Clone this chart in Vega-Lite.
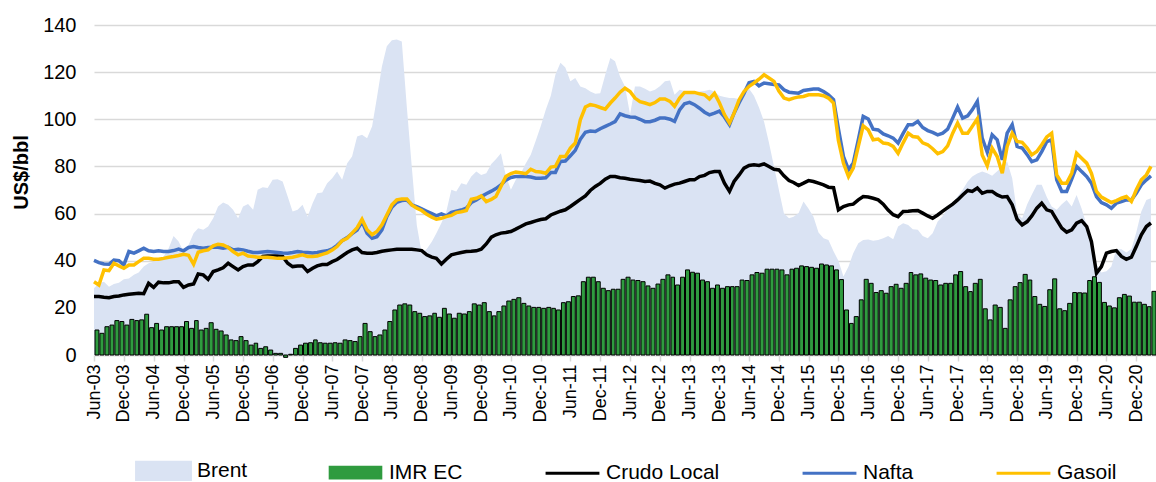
{
"$schema": "https://vega.github.io/schema/vega-lite/v6.json",
"width": 1062, "height": 330,
"autosize": {"type": "none"},
"padding": {"left": 94, "top": 25, "right": 0, "bottom": 127},
"background": "white",
"config": {"view": {"stroke": null}, "font": "Liberation Sans"},
"data": {"values": [
{"fecha":"2003/06/01","Brent":28.3,"IMR EC":10.6,"Crudo Local":24.8,"Nafta":40.1,"Gasoil":31.1},
{"fecha":"2003/07/01","Brent":30.4,"IMR EC":9.2,"Crudo Local":24.8,"Nafta":39.2,"Gasoil":29.7},
{"fecha":"2003/08/01","Brent":31.1,"IMR EC":12,"Crudo Local":24.5,"Nafta":38.6,"Gasoil":36.1},
{"fecha":"2003/09/01","Brent":29,"IMR EC":12.7,"Crudo Local":24.3,"Nafta":38.5,"Gasoil":35.8},
{"fecha":"2003/10/01","Brent":30.1,"IMR EC":14.6,"Crudo Local":24.8,"Nafta":40.3,"Gasoil":38.9},
{"fecha":"2003/11/01","Brent":30.7,"IMR EC":14.2,"Crudo Local":25,"Nafta":40,"Gasoil":37.8},
{"fecha":"2003/12/01","Brent":32.1,"IMR EC":12.7,"Crudo Local":25.5,"Nafta":38.2,"Gasoil":36.8},
{"fecha":"2004/01/01","Brent":32.5,"IMR EC":15.1,"Crudo Local":25.8,"Nafta":43.9,"Gasoil":38.2},
{"fecha":"2004/02/01","Brent":34,"IMR EC":14.6,"Crudo Local":26,"Nafta":43.2,"Gasoil":38.2},
{"fecha":"2004/03/01","Brent":35,"IMR EC":14.9,"Crudo Local":26.2,"Nafta":44.2,"Gasoil":39.6},
{"fecha":"2004/04/01","Brent":37.5,"IMR EC":17.3,"Crudo Local":26,"Nafta":45.3,"Gasoil":41},
{"fecha":"2004/05/01","Brent":38.9,"IMR EC":11.6,"Crudo Local":30.4,"Nafta":44.2,"Gasoil":41},
{"fecha":"2004/06/01","Brent":39.6,"IMR EC":13.4,"Crudo Local":28.7,"Nafta":43.9,"Gasoil":40.6},
{"fecha":"2004/07/01","Brent":40.3,"IMR EC":10.6,"Crudo Local":30.9,"Nafta":44.2,"Gasoil":40.6},
{"fecha":"2004/08/01","Brent":41.8,"IMR EC":12,"Crudo Local":30.6,"Nafta":43.9,"Gasoil":41},
{"fecha":"2004/09/01","Brent":45.3,"IMR EC":12,"Crudo Local":30.6,"Nafta":43.9,"Gasoil":41.5},
{"fecha":"2004/10/01","Brent":50.5,"IMR EC":12,"Crudo Local":31.1,"Nafta":44.3,"Gasoil":41.8},
{"fecha":"2004/11/01","Brent":48.1,"IMR EC":12,"Crudo Local":31.1,"Nafta":44.9,"Gasoil":42.2},
{"fecha":"2004/12/01","Brent":43.9,"IMR EC":14.2,"Crudo Local":28.7,"Nafta":44.2,"Gasoil":42.7},
{"fecha":"2005/01/01","Brent":46.7,"IMR EC":11.3,"Crudo Local":29.7,"Nafta":45.6,"Gasoil":42.3},
{"fecha":"2005/02/01","Brent":51.7,"IMR EC":14.6,"Crudo Local":30.1,"Nafta":46,"Gasoil":38.5},
{"fecha":"2005/03/01","Brent":53.8,"IMR EC":10.6,"Crudo Local":34.4,"Nafta":45.6,"Gasoil":43.6},
{"fecha":"2005/04/01","Brent":53.1,"IMR EC":11.3,"Crudo Local":34,"Nafta":45.3,"Gasoil":44.2},
{"fecha":"2005/05/01","Brent":54.5,"IMR EC":13.7,"Crudo Local":32.1,"Nafta":45.6,"Gasoil":44.6},
{"fecha":"2005/06/01","Brent":58,"IMR EC":10.9,"Crudo Local":35.4,"Nafta":45.7,"Gasoil":46.3},
{"fecha":"2005/07/01","Brent":63,"IMR EC":10.2,"Crudo Local":36.1,"Nafta":45.7,"Gasoil":47},
{"fecha":"2005/08/01","Brent":64.7,"IMR EC":8.5,"Crudo Local":37,"Nafta":45.3,"Gasoil":46.7},
{"fecha":"2005/09/01","Brent":63.7,"IMR EC":6.4,"Crudo Local":38.9,"Nafta":45.7,"Gasoil":45.6},
{"fecha":"2005/10/01","Brent":61.6,"IMR EC":6.1,"Crudo Local":37.5,"Nafta":44.6,"Gasoil":43.9},
{"fecha":"2005/11/01","Brent":58,"IMR EC":7.8,"Crudo Local":36.1,"Nafta":44.9,"Gasoil":42.5},
{"fecha":"2005/12/01","Brent":63,"IMR EC":6.1,"Crudo Local":37.5,"Nafta":44.6,"Gasoil":43.2},
{"fecha":"2006/01/01","Brent":64.1,"IMR EC":4.2,"Crudo Local":38.2,"Nafta":44,"Gasoil":42},
{"fecha":"2006/02/01","Brent":61.6,"IMR EC":5,"Crudo Local":38.2,"Nafta":43.5,"Gasoil":41.8},
{"fecha":"2006/03/01","Brent":70.1,"IMR EC":2.8,"Crudo Local":39.6,"Nafta":43.5,"Gasoil":41.5},
{"fecha":"2006/04/01","Brent":71.2,"IMR EC":3.5,"Crudo Local":41.8,"Nafta":43.7,"Gasoil":41.5},
{"fecha":"2006/05/01","Brent":70.8,"IMR EC":2.1,"Crudo Local":42,"Nafta":43.9,"Gasoil":41.5},
{"fecha":"2006/06/01","Brent":74.3,"IMR EC":0.7,"Crudo Local":42,"Nafta":43.7,"Gasoil":41.3},
{"fecha":"2006/07/01","Brent":74.6,"IMR EC":0.7,"Crudo Local":42,"Nafta":43.5,"Gasoil":41},
{"fecha":"2006/08/01","Brent":73.6,"IMR EC":-1,"Crudo Local":41.8,"Nafta":43.3,"Gasoil":41},
{"fecha":"2006/09/01","Brent":67.2,"IMR EC":0.3,"Crudo Local":38.9,"Nafta":43.2,"Gasoil":41.3},
{"fecha":"2006/10/01","Brent":60.9,"IMR EC":2.8,"Crudo Local":37.5,"Nafta":43.5,"Gasoil":41.5},
{"fecha":"2006/11/01","Brent":61.6,"IMR EC":4.2,"Crudo Local":37.8,"Nafta":43.9,"Gasoil":42},
{"fecha":"2006/12/01","Brent":63.7,"IMR EC":5,"Crudo Local":37.8,"Nafta":43.6,"Gasoil":42.5},
{"fecha":"2007/01/01","Brent":58.7,"IMR EC":5.2,"Crudo Local":35.4,"Nafta":43.5,"Gasoil":41.8},
{"fecha":"2007/02/01","Brent":64.4,"IMR EC":6.4,"Crudo Local":36.8,"Nafta":43.3,"Gasoil":41.8},
{"fecha":"2007/03/01","Brent":68.6,"IMR EC":5.2,"Crudo Local":37.8,"Nafta":43.5,"Gasoil":42},
{"fecha":"2007/04/01","Brent":68.9,"IMR EC":5,"Crudo Local":38.4,"Nafta":43.9,"Gasoil":42.7},
{"fecha":"2007/05/01","Brent":72.9,"IMR EC":5,"Crudo Local":38.4,"Nafta":44.2,"Gasoil":43.3},
{"fecha":"2007/06/01","Brent":75,"IMR EC":5.2,"Crudo Local":39.6,"Nafta":45,"Gasoil":44.5},
{"fecha":"2007/07/01","Brent":77.8,"IMR EC":5,"Crudo Local":40.5,"Nafta":46.5,"Gasoil":46},
{"fecha":"2007/08/01","Brent":74.3,"IMR EC":6.4,"Crudo Local":42,"Nafta":48.5,"Gasoil":48.5},
{"fecha":"2007/09/01","Brent":81.4,"IMR EC":6.1,"Crudo Local":43.5,"Nafta":49.8,"Gasoil":49.5},
{"fecha":"2007/10/01","Brent":84.2,"IMR EC":5.7,"Crudo Local":44.6,"Nafta":51.5,"Gasoil":51.7},
{"fecha":"2007/11/01","Brent":92.7,"IMR EC":7.8,"Crudo Local":45.3,"Nafta":53,"Gasoil":54},
{"fecha":"2007/12/01","Brent":93.4,"IMR EC":13.4,"Crudo Local":43.5,"Nafta":56.6,"Gasoil":57.6},
{"fecha":"2008/01/01","Brent":92,"IMR EC":9.9,"Crudo Local":43.2,"Nafta":51.7,"Gasoil":53.1},
{"fecha":"2008/02/01","Brent":97,"IMR EC":7.8,"Crudo Local":43.2,"Nafta":49.5,"Gasoil":51},
{"fecha":"2008/03/01","Brent":109,"IMR EC":8.5,"Crudo Local":43.5,"Nafta":50.2,"Gasoil":52.4},
{"fecha":"2008/04/01","Brent":122.4,"IMR EC":10.6,"Crudo Local":44,"Nafta":53.1,"Gasoil":55.2},
{"fecha":"2008/05/01","Brent":131,"IMR EC":14.2,"Crudo Local":44.3,"Nafta":58.7,"Gasoil":59.4},
{"fecha":"2008/06/01","Brent":133.5,"IMR EC":19.1,"Crudo Local":44.6,"Nafta":62.7,"Gasoil":63.7},
{"fecha":"2008/07/01","Brent":133.8,"IMR EC":21.2,"Crudo Local":44.9,"Nafta":64.8,"Gasoil":65.8},
{"fecha":"2008/08/01","Brent":133,"IMR EC":21.7,"Crudo Local":44.9,"Nafta":65.5,"Gasoil":66.2},
{"fecha":"2008/09/01","Brent":105,"IMR EC":21.2,"Crudo Local":44.9,"Nafta":65.8,"Gasoil":66.2},
{"fecha":"2008/10/01","Brent":80,"IMR EC":18.4,"Crudo Local":44.9,"Nafta":63.7,"Gasoil":63.7},
{"fecha":"2008/11/01","Brent":55,"IMR EC":17.7,"Crudo Local":44.6,"Nafta":62.9,"Gasoil":62.3},
{"fecha":"2008/12/01","Brent":43.2,"IMR EC":16.3,"Crudo Local":44.3,"Nafta":62,"Gasoil":61.3},
{"fecha":"2009/01/01","Brent":45,"IMR EC":16.6,"Crudo Local":42.5,"Nafta":61,"Gasoil":59.7},
{"fecha":"2009/02/01","Brent":48,"IMR EC":17.7,"Crudo Local":41.5,"Nafta":60,"Gasoil":58.5},
{"fecha":"2009/03/01","Brent":51.7,"IMR EC":16,"Crudo Local":41,"Nafta":59,"Gasoil":57.6},
{"fecha":"2009/04/01","Brent":56,"IMR EC":19.8,"Crudo Local":38.6,"Nafta":59.9,"Gasoil":58},
{"fecha":"2009/05/01","Brent":60.9,"IMR EC":17.4,"Crudo Local":40.6,"Nafta":59,"Gasoil":58.7},
{"fecha":"2009/06/01","Brent":70.1,"IMR EC":15.6,"Crudo Local":42.5,"Nafta":60.5,"Gasoil":59.2},
{"fecha":"2009/07/01","Brent":69.4,"IMR EC":17.7,"Crudo Local":43,"Nafta":61,"Gasoil":60.4},
{"fecha":"2009/08/01","Brent":72.9,"IMR EC":17.4,"Crudo Local":43.5,"Nafta":61.5,"Gasoil":60.8},
{"fecha":"2009/09/01","Brent":72.2,"IMR EC":18.4,"Crudo Local":43.9,"Nafta":62.3,"Gasoil":61.3},
{"fecha":"2009/10/01","Brent":75.7,"IMR EC":21.7,"Crudo Local":44,"Nafta":64.7,"Gasoil":66.1},
{"fecha":"2009/11/01","Brent":77.8,"IMR EC":21.2,"Crudo Local":44.2,"Nafta":65.8,"Gasoil":66.5},
{"fecha":"2009/12/01","Brent":76.4,"IMR EC":22.2,"Crudo Local":44.9,"Nafta":67.2,"Gasoil":67.5},
{"fecha":"2010/01/01","Brent":77.1,"IMR EC":18.4,"Crudo Local":47.1,"Nafta":68.4,"Gasoil":65.1},
{"fecha":"2010/02/01","Brent":81,"IMR EC":16.6,"Crudo Local":50,"Nafta":69.5,"Gasoil":66},
{"fecha":"2010/03/01","Brent":83,"IMR EC":18.4,"Crudo Local":51,"Nafta":70.6,"Gasoil":67.2},
{"fecha":"2010/04/01","Brent":85.6,"IMR EC":20.8,"Crudo Local":51.7,"Nafta":72.2,"Gasoil":71.5},
{"fecha":"2010/05/01","Brent":76,"IMR EC":22.9,"Crudo Local":52,"Nafta":74.2,"Gasoil":75.7},
{"fecha":"2010/06/01","Brent":70.1,"IMR EC":23.6,"Crudo Local":52.4,"Nafta":75.3,"Gasoil":77},
{"fecha":"2010/07/01","Brent":74.3,"IMR EC":24.3,"Crudo Local":53.4,"Nafta":75.7,"Gasoil":77.6},
{"fecha":"2010/08/01","Brent":77.1,"IMR EC":21.9,"Crudo Local":54.5,"Nafta":75.7,"Gasoil":77.3},
{"fecha":"2010/09/01","Brent":81.4,"IMR EC":20.8,"Crudo Local":55.6,"Nafta":75.7,"Gasoil":76.9},
{"fecha":"2010/10/01","Brent":85,"IMR EC":20.2,"Crudo Local":56.2,"Nafta":75.5,"Gasoil":78.8},
{"fecha":"2010/11/01","Brent":91,"IMR EC":20.2,"Crudo Local":56.9,"Nafta":75,"Gasoil":77.8},
{"fecha":"2010/12/01","Brent":97,"IMR EC":19.8,"Crudo Local":57.5,"Nafta":75,"Gasoil":77.6},
{"fecha":"2011/01/01","Brent":104,"IMR EC":20.2,"Crudo Local":57.8,"Nafta":75.2,"Gasoil":77.1},
{"fecha":"2011/02/01","Brent":110,"IMR EC":19.8,"Crudo Local":59.4,"Nafta":77.4,"Gasoil":79.7},
{"fecha":"2011/03/01","Brent":118.9,"IMR EC":19.1,"Crudo Local":60.2,"Nafta":77.4,"Gasoil":80},
{"fecha":"2011/04/01","Brent":124,"IMR EC":22.2,"Crudo Local":61,"Nafta":82.1,"Gasoil":84.2},
{"fecha":"2011/05/01","Brent":122,"IMR EC":22.6,"Crudo Local":61.6,"Nafta":82.3,"Gasoil":84.2},
{"fecha":"2011/06/01","Brent":116.1,"IMR EC":24.8,"Crudo Local":63,"Nafta":84.5,"Gasoil":87.8},
{"fecha":"2011/07/01","Brent":117.5,"IMR EC":25.1,"Crudo Local":64.5,"Nafta":86.8,"Gasoil":89.9},
{"fecha":"2011/08/01","Brent":113.9,"IMR EC":31.1,"Crudo Local":66,"Nafta":91.5,"Gasoil":99.8},
{"fecha":"2011/09/01","Brent":113.2,"IMR EC":33,"Crudo Local":67.5,"Nafta":94.5,"Gasoil":105.2},
{"fecha":"2011/10/01","Brent":111.8,"IMR EC":33,"Crudo Local":69.8,"Nafta":95,"Gasoil":106.2},
{"fecha":"2011/11/01","Brent":110.8,"IMR EC":31.1,"Crudo Local":71.5,"Nafta":94.8,"Gasoil":105.8},
{"fecha":"2011/12/01","Brent":111,"IMR EC":28.3,"Crudo Local":72.8,"Nafta":96,"Gasoil":105},
{"fecha":"2012/01/01","Brent":118.9,"IMR EC":27.3,"Crudo Local":74.6,"Nafta":97,"Gasoil":104.3},
{"fecha":"2012/02/01","Brent":126,"IMR EC":27.9,"Crudo Local":75.7,"Nafta":98,"Gasoil":106.9},
{"fecha":"2012/03/01","Brent":124.6,"IMR EC":27.9,"Crudo Local":75.7,"Nafta":99,"Gasoil":109},
{"fecha":"2012/04/01","Brent":118,"IMR EC":32.1,"Crudo Local":75.2,"Nafta":102.3,"Gasoil":111.5},
{"fecha":"2012/05/01","Brent":113.9,"IMR EC":33,"Crudo Local":75,"Nafta":101.5,"Gasoil":113.2},
{"fecha":"2012/06/01","Brent":102,"IMR EC":31.8,"Crudo Local":74.6,"Nafta":101,"Gasoil":111.8},
{"fecha":"2012/07/01","Brent":113.9,"IMR EC":31.6,"Crudo Local":74.3,"Nafta":100.9,"Gasoil":109},
{"fecha":"2012/08/01","Brent":113.9,"IMR EC":31.1,"Crudo Local":74,"Nafta":100,"Gasoil":107.5},
{"fecha":"2012/09/01","Brent":113,"IMR EC":29.3,"Crudo Local":73.6,"Nafta":99,"Gasoil":106.9},
{"fecha":"2012/10/01","Brent":111.8,"IMR EC":28.3,"Crudo Local":73.8,"Nafta":99,"Gasoil":106.2},
{"fecha":"2012/11/01","Brent":112.5,"IMR EC":30.1,"Crudo Local":72.8,"Nafta":99.6,"Gasoil":107.1},
{"fecha":"2012/12/01","Brent":114,"IMR EC":32.1,"Crudo Local":72.2,"Nafta":100.5,"Gasoil":108.6},
{"fecha":"2013/01/01","Brent":116.1,"IMR EC":34,"Crudo Local":70.8,"Nafta":100.5,"Gasoil":108.6},
{"fecha":"2013/02/01","Brent":116.5,"IMR EC":33,"Crudo Local":71.8,"Nafta":100,"Gasoil":107.6},
{"fecha":"2013/03/01","Brent":110.4,"IMR EC":29.7,"Crudo Local":72.5,"Nafta":99.1,"Gasoil":105.5},
{"fecha":"2013/04/01","Brent":112.5,"IMR EC":33,"Crudo Local":72.9,"Nafta":104,"Gasoil":109},
{"fecha":"2013/05/01","Brent":112,"IMR EC":36.1,"Crudo Local":73.6,"Nafta":106.6,"Gasoil":111.4},
{"fecha":"2013/06/01","Brent":111.8,"IMR EC":35.1,"Crudo Local":74.3,"Nafta":107.2,"Gasoil":111.4},
{"fecha":"2013/07/01","Brent":111.5,"IMR EC":34.7,"Crudo Local":74.3,"Nafta":106.2,"Gasoil":111.4},
{"fecha":"2013/08/01","Brent":111.8,"IMR EC":31.8,"Crudo Local":75.7,"Nafta":104.7,"Gasoil":110.8},
{"fecha":"2013/09/01","Brent":112,"IMR EC":31.1,"Crudo Local":76.2,"Nafta":103,"Gasoil":110.4},
{"fecha":"2013/10/01","Brent":112.5,"IMR EC":28.3,"Crudo Local":77.4,"Nafta":101.9,"Gasoil":108.6},
{"fecha":"2013/11/01","Brent":111.8,"IMR EC":29.7,"Crudo Local":77.8,"Nafta":102.6,"Gasoil":111},
{"fecha":"2013/12/01","Brent":110,"IMR EC":28.3,"Crudo Local":77.8,"Nafta":103.5,"Gasoil":107},
{"fecha":"2014/01/01","Brent":109.5,"IMR EC":29,"Crudo Local":72.9,"Nafta":101,"Gasoil":102},
{"fecha":"2014/02/01","Brent":109,"IMR EC":29,"Crudo Local":69.4,"Nafta":97.7,"Gasoil":98.4},
{"fecha":"2014/03/01","Brent":109,"IMR EC":29,"Crudo Local":73.6,"Nafta":102.6,"Gasoil":102.6},
{"fecha":"2014/04/01","Brent":108.5,"IMR EC":31.8,"Crudo Local":76.4,"Nafta":107,"Gasoil":108.3},
{"fecha":"2014/05/01","Brent":110.5,"IMR EC":31.6,"Crudo Local":79.3,"Nafta":111,"Gasoil":111.8},
{"fecha":"2014/06/01","Brent":113,"IMR EC":34,"Crudo Local":80.4,"Nafta":115.5,"Gasoil":114},
{"fecha":"2014/07/01","Brent":110,"IMR EC":35,"Crudo Local":80.7,"Nafta":116.1,"Gasoil":115.4},
{"fecha":"2014/08/01","Brent":105,"IMR EC":34.7,"Crudo Local":80.4,"Nafta":114.2,"Gasoil":117},
{"fecha":"2014/09/01","Brent":99,"IMR EC":36.4,"Crudo Local":81.1,"Nafta":115.4,"Gasoil":118.9},
{"fecha":"2014/10/01","Brent":90,"IMR EC":36.4,"Crudo Local":80,"Nafta":115.1,"Gasoil":117.5},
{"fecha":"2014/11/01","Brent":80,"IMR EC":36.4,"Crudo Local":78.8,"Nafta":114.8,"Gasoil":116.1},
{"fecha":"2014/12/01","Brent":70,"IMR EC":36.1,"Crudo Local":78.5,"Nafta":114.6,"Gasoil":112},
{"fecha":"2015/01/01","Brent":60,"IMR EC":34,"Crudo Local":76,"Nafta":112.5,"Gasoil":109},
{"fecha":"2015/02/01","Brent":58,"IMR EC":36.4,"Crudo Local":74,"Nafta":111.5,"Gasoil":108.3},
{"fecha":"2015/03/01","Brent":58.7,"IMR EC":36.8,"Crudo Local":73.2,"Nafta":111.3,"Gasoil":109},
{"fecha":"2015/04/01","Brent":60.2,"IMR EC":37.8,"Crudo Local":71.9,"Nafta":111.1,"Gasoil":109.5},
{"fecha":"2015/05/01","Brent":65.1,"IMR EC":37.5,"Crudo Local":72.9,"Nafta":112.2,"Gasoil":109.7},
{"fecha":"2015/06/01","Brent":62,"IMR EC":37.2,"Crudo Local":74,"Nafta":112.5,"Gasoil":110.4},
{"fecha":"2015/07/01","Brent":58.7,"IMR EC":36.8,"Crudo Local":73.6,"Nafta":112.8,"Gasoil":110.4},
{"fecha":"2015/08/01","Brent":52,"IMR EC":38.6,"Crudo Local":72.9,"Nafta":112.8,"Gasoil":110.4},
{"fecha":"2015/09/01","Brent":49.5,"IMR EC":38.2,"Crudo Local":72.2,"Nafta":111.8,"Gasoil":110},
{"fecha":"2015/10/01","Brent":48.8,"IMR EC":37.8,"Crudo Local":71.2,"Nafta":110.4,"Gasoil":109},
{"fecha":"2015/11/01","Brent":44,"IMR EC":36.1,"Crudo Local":71,"Nafta":108.3,"Gasoil":106.9},
{"fecha":"2015/12/01","Brent":40,"IMR EC":32,"Crudo Local":61.6,"Nafta":96,"Gasoil":91},
{"fecha":"2016/01/01","Brent":33.3,"IMR EC":19.1,"Crudo Local":63,"Nafta":84.2,"Gasoil":81.4},
{"fecha":"2016/02/01","Brent":37.5,"IMR EC":13.4,"Crudo Local":63.7,"Nafta":78.6,"Gasoil":75.7},
{"fecha":"2016/03/01","Brent":43.2,"IMR EC":16.3,"Crudo Local":64,"Nafta":81.4,"Gasoil":79.3},
{"fecha":"2016/04/01","Brent":47.4,"IMR EC":23.4,"Crudo Local":65.8,"Nafta":91.3,"Gasoil":88.5},
{"fecha":"2016/05/01","Brent":48.8,"IMR EC":32.1,"Crudo Local":67.2,"Nafta":101.2,"Gasoil":97.2},
{"fecha":"2016/06/01","Brent":49,"IMR EC":30.4,"Crudo Local":67,"Nafta":100.1,"Gasoil":95.5},
{"fecha":"2016/07/01","Brent":48.5,"IMR EC":26.5,"Crudo Local":66.5,"Nafta":95.8,"Gasoil":91.3},
{"fecha":"2016/08/01","Brent":48.8,"IMR EC":27.3,"Crudo Local":65.8,"Nafta":95.5,"Gasoil":91.6},
{"fecha":"2016/09/01","Brent":49.5,"IMR EC":26.2,"Crudo Local":64,"Nafta":93.8,"Gasoil":89.9},
{"fecha":"2016/10/01","Brent":50.5,"IMR EC":29,"Crudo Local":61.5,"Nafta":93,"Gasoil":89.6},
{"fecha":"2016/11/01","Brent":49.1,"IMR EC":30,"Crudo Local":59.5,"Nafta":92,"Gasoil":88.5},
{"fecha":"2016/12/01","Brent":54.5,"IMR EC":28.3,"Crudo Local":58.7,"Nafta":89.9,"Gasoil":85.6},
{"fecha":"2017/01/01","Brent":55.9,"IMR EC":30.4,"Crudo Local":60.9,"Nafta":94,"Gasoil":90},
{"fecha":"2017/02/01","Brent":55.2,"IMR EC":35,"Crudo Local":61,"Nafta":97.7,"Gasoil":94.1},
{"fecha":"2017/03/01","Brent":53.4,"IMR EC":34,"Crudo Local":61.2,"Nafta":97.7,"Gasoil":92.7},
{"fecha":"2017/04/01","Brent":53.1,"IMR EC":34.4,"Crudo Local":61.3,"Nafta":99.1,"Gasoil":92.4},
{"fecha":"2017/05/01","Brent":50.5,"IMR EC":32.6,"Crudo Local":60.2,"Nafta":96.5,"Gasoil":90},
{"fecha":"2017/06/01","Brent":49.5,"IMR EC":31.8,"Crudo Local":59,"Nafta":95.2,"Gasoil":89.2},
{"fecha":"2017/07/01","Brent":51.7,"IMR EC":31.6,"Crudo Local":58,"Nafta":94.4,"Gasoil":87.5},
{"fecha":"2017/08/01","Brent":56.6,"IMR EC":29.7,"Crudo Local":59.4,"Nafta":93.4,"Gasoil":85.4},
{"fecha":"2017/09/01","Brent":59,"IMR EC":30.4,"Crudo Local":61,"Nafta":94.1,"Gasoil":86.3},
{"fecha":"2017/10/01","Brent":62.3,"IMR EC":30.4,"Crudo Local":62.5,"Nafta":95.8,"Gasoil":88.7},
{"fecha":"2017/11/01","Brent":64.5,"IMR EC":34,"Crudo Local":64,"Nafta":100.5,"Gasoil":94.1},
{"fecha":"2017/12/01","Brent":67.2,"IMR EC":35.4,"Crudo Local":65.8,"Nafta":105.2,"Gasoil":98.4},
{"fecha":"2018/01/01","Brent":70.1,"IMR EC":29,"Crudo Local":67.9,"Nafta":100.5,"Gasoil":94.1},
{"fecha":"2018/02/01","Brent":73.6,"IMR EC":26.9,"Crudo Local":69.8,"Nafta":101.5,"Gasoil":94.1},
{"fecha":"2018/03/01","Brent":75.7,"IMR EC":30.4,"Crudo Local":69.4,"Nafta":104,"Gasoil":97},
{"fecha":"2018/04/01","Brent":77,"IMR EC":32.1,"Crudo Local":70.8,"Nafta":107.6,"Gasoil":100.2},
{"fecha":"2018/05/01","Brent":77.8,"IMR EC":19.6,"Crudo Local":68.6,"Nafta":92,"Gasoil":84.9},
{"fecha":"2018/06/01","Brent":77.1,"IMR EC":14.9,"Crudo Local":69.4,"Nafta":86,"Gasoil":80.3},
{"fecha":"2018/07/01","Brent":76,"IMR EC":21.2,"Crudo Local":69.4,"Nafta":93.4,"Gasoil":87.8},
{"fecha":"2018/08/01","Brent":78,"IMR EC":20.2,"Crudo Local":67.9,"Nafta":91.3,"Gasoil":84.2},
{"fecha":"2018/09/01","Brent":80,"IMR EC":11.3,"Crudo Local":67,"Nafta":82.8,"Gasoil":77.1},
{"fecha":"2018/10/01","Brent":82.1,"IMR EC":23.4,"Crudo Local":67.2,"Nafta":94.1,"Gasoil":88.5},
{"fecha":"2018/11/01","Brent":75,"IMR EC":29,"Crudo Local":63.7,"Nafta":97.7,"Gasoil":94.1},
{"fecha":"2018/12/01","Brent":60,"IMR EC":30.7,"Crudo Local":57.6,"Nafta":88.5,"Gasoil":90.6},
{"fecha":"2019/01/01","Brent":58,"IMR EC":34.2,"Crudo Local":55.2,"Nafta":87.8,"Gasoil":90.2},
{"fecha":"2019/02/01","Brent":64,"IMR EC":31.8,"Crudo Local":56.6,"Nafta":85,"Gasoil":87.8},
{"fecha":"2019/03/01","Brent":68,"IMR EC":24.8,"Crudo Local":59,"Nafta":82,"Gasoil":84.9},
{"fecha":"2019/04/01","Brent":72.2,"IMR EC":21.5,"Crudo Local":62.3,"Nafta":82.8,"Gasoil":86.3},
{"fecha":"2019/05/01","Brent":72.2,"IMR EC":20.6,"Crudo Local":64.4,"Nafta":86.3,"Gasoil":89.2},
{"fecha":"2019/06/01","Brent":67,"IMR EC":27.7,"Crudo Local":61.6,"Nafta":90.5,"Gasoil":92.5},
{"fecha":"2019/07/01","Brent":63,"IMR EC":32.3,"Crudo Local":60.9,"Nafta":91.3,"Gasoil":94.1},
{"fecha":"2019/08/01","Brent":61.6,"IMR EC":19.6,"Crudo Local":57.3,"Nafta":74.3,"Gasoil":76.4},
{"fecha":"2019/09/01","Brent":64,"IMR EC":18.8,"Crudo Local":53.8,"Nafta":69.4,"Gasoil":72.9},
{"fecha":"2019/10/01","Brent":65.8,"IMR EC":21.9,"Crudo Local":52.1,"Nafta":69.4,"Gasoil":72.9},
{"fecha":"2019/11/01","Brent":63,"IMR EC":26.5,"Crudo Local":53.1,"Nafta":74.6,"Gasoil":77.1},
{"fecha":"2019/12/01","Brent":67.9,"IMR EC":26.4,"Crudo Local":55.9,"Nafta":80,"Gasoil":85.6},
{"fecha":"2020/01/01","Brent":62,"IMR EC":26.3,"Crudo Local":57,"Nafta":77.8,"Gasoil":83.5},
{"fecha":"2020/02/01","Brent":55,"IMR EC":31.6,"Crudo Local":54.5,"Nafta":75.7,"Gasoil":81.4},
{"fecha":"2020/03/01","Brent":46,"IMR EC":33.2,"Crudo Local":48.1,"Nafta":72.9,"Gasoil":77.1},
{"fecha":"2020/04/01","Brent":38.5,"IMR EC":30.8,"Crudo Local":34.7,"Nafta":67.2,"Gasoil":69.4},
{"fecha":"2020/05/01","Brent":35,"IMR EC":22.3,"Crudo Local":37.5,"Nafta":64.7,"Gasoil":67},
{"fecha":"2020/06/01","Brent":35.5,"IMR EC":20.8,"Crudo Local":43.2,"Nafta":63.7,"Gasoil":65.8},
{"fecha":"2020/07/01","Brent":37.5,"IMR EC":20,"Crudo Local":43.9,"Nafta":62.3,"Gasoil":64.7},
{"fecha":"2020/08/01","Brent":44.9,"IMR EC":24.3,"Crudo Local":44.3,"Nafta":64.4,"Gasoil":65.5},
{"fecha":"2020/09/01","Brent":44.9,"IMR EC":25.7,"Crudo Local":41.8,"Nafta":65.1,"Gasoil":66.5},
{"fecha":"2020/10/01","Brent":43.5,"IMR EC":25,"Crudo Local":40.6,"Nafta":65.8,"Gasoil":67.2},
{"fecha":"2020/11/01","Brent":45,"IMR EC":22.4,"Crudo Local":41.5,"Nafta":65.8,"Gasoil":65.1},
{"fecha":"2020/12/01","Brent":52,"IMR EC":22.4,"Crudo Local":46,"Nafta":68.6,"Gasoil":70.1},
{"fecha":"2021/01/01","Brent":60.9,"IMR EC":21.5,"Crudo Local":51,"Nafta":72.2,"Gasoil":74.3},
{"fecha":"2021/02/01","Brent":65.8,"IMR EC":20.5,"Crudo Local":54.5,"Nafta":74.3,"Gasoil":76.4},
{"fecha":"2021/03/01","Brent":66.5,"IMR EC":27,"Crudo Local":56,"Nafta":76,"Gasoil":80}
]},
"encoding": {
  "x": {"field": "fecha", "type": "temporal",
    "scale": {"domain": [{"year": 2003, "month": 6, "date": 1}, {"year": 2021, "month": 4, "date": 1}]},
    "axis": {"title": null, "format": "%b-%y", "labelAngle": -90, "labelFontSize": 18, "labelColor": "#000000", "labelPadding": 3, "labelOverlap": false, "labelFlush": false,
      "grid": false, "domainColor": "#D9D9D9", "domainWidth": 1.5, "tickColor": "#D9D9D9", "tickWidth": 1.5, "tickSize": 6,
      "values": [{"year":2003,"month":6,"date":1},{"year":2003,"month":12,"date":1},{"year":2004,"month":6,"date":1},{"year":2004,"month":12,"date":1},{"year":2005,"month":6,"date":1},{"year":2005,"month":12,"date":1},{"year":2006,"month":6,"date":1},{"year":2006,"month":12,"date":1},{"year":2007,"month":6,"date":1},{"year":2007,"month":12,"date":1},{"year":2008,"month":6,"date":1},{"year":2008,"month":12,"date":1},{"year":2009,"month":6,"date":1},{"year":2009,"month":12,"date":1},{"year":2010,"month":6,"date":1},{"year":2010,"month":12,"date":1},{"year":2011,"month":6,"date":1},{"year":2011,"month":12,"date":1},{"year":2012,"month":6,"date":1},{"year":2012,"month":12,"date":1},{"year":2013,"month":6,"date":1},{"year":2013,"month":12,"date":1},{"year":2014,"month":6,"date":1},{"year":2014,"month":12,"date":1},{"year":2015,"month":6,"date":1},{"year":2015,"month":12,"date":1},{"year":2016,"month":6,"date":1},{"year":2016,"month":12,"date":1},{"year":2017,"month":6,"date":1},{"year":2017,"month":12,"date":1},{"year":2018,"month":6,"date":1},{"year":2018,"month":12,"date":1},{"year":2019,"month":6,"date":1},{"year":2019,"month":12,"date":1},{"year":2020,"month":6,"date":1},{"year":2020,"month":12,"date":1}]
    }
  }
},
"layer": [
  {
    "transform": [{"fold": ["Brent"], "as": ["serie", "valor"]}],
    "mark": {"type": "area", "opacity": 1},
    "encoding": {
      "y": {"field": "valor", "type": "quantitative", "scale": {"domain": [0, 140]},
        "axis": {"title": "US$/bbl", "titleFontSize": 20, "titleFontWeight": "bold", "titleColor": "#000000", "titlePadding": 11, "titleY": 147,
          "labelFontSize": 20, "labelColor": "#000000", "labelPadding": 18, "values": [0,20,40,60,80,100,120,140],
          "domain": false, "ticks": false, "grid": true, "gridColor": "#D9D9D9", "gridWidth": 1.5}},
      "color": {"field": "serie", "type": "nominal",
        "scale": {"domain": ["Brent", "IMR EC", "Crudo Local", "Nafta", "Gasoil"], "range": ["#DAE3F3", "#2F9B3F", "#000000", "#4472C4", "#FFC000"]},
        "legend": {"orient": "none", "legendX": 41, "legendY": 417, "direction": "horizontal", "title": null,
          "symbolSize": 2900, "labelFontSize": 21, "labelFont": "Liberation Sans", "labelColor": "#000000",
          "columnPadding": 76, "labelOffset": 5, "symbolOpacity": 1, "symbolStrokeWidth": 3,
          "symbolType": {"expr": "datum.value == 'Brent' ? 'M-1,-0.32H1V0.32H-1Z' : datum.value == 'IMR EC' ? 'M-0.94,-0.2H0.94V0.2H-0.94Z' : 'M-1,0H1'"},
          "symbolFillColor": {"expr": "datum.value == 'Brent' ? '#DAE3F3' : datum.value == 'IMR EC' ? '#2F9B3F' : 'transparent'"},
          "symbolStrokeColor": {"expr": "datum.value == 'Brent' ? '#DAE3F3' : datum.value == 'Nafta' ? '#4472C4' : datum.value == 'Gasoil' ? '#FFC000' : '#000000'"}
        }
      }
    }
  },
  {
    "transform": [{"fold": ["IMR EC"], "as": ["serie", "valor"]}],
    "mark": {"type": "bar", "stroke": "#000000", "strokeWidth": 1},
    "encoding": {
      "x": {"field": "fecha", "timeUnit": "yearmonth", "type": "temporal"},
      "y": {"field": "valor", "type": "quantitative"},
      "color": {"field": "serie", "type": "nominal"}
    }
  },
  {
    "transform": [{"fold": ["Crudo Local", "Nafta", "Gasoil"], "as": ["serie", "valor"]}],
    "mark": {"type": "line", "strokeWidth": 3.5},
    "encoding": {
      "y": {"field": "valor", "type": "quantitative"},
      "color": {"field": "serie", "type": "nominal"}
    }
  }
]
}
